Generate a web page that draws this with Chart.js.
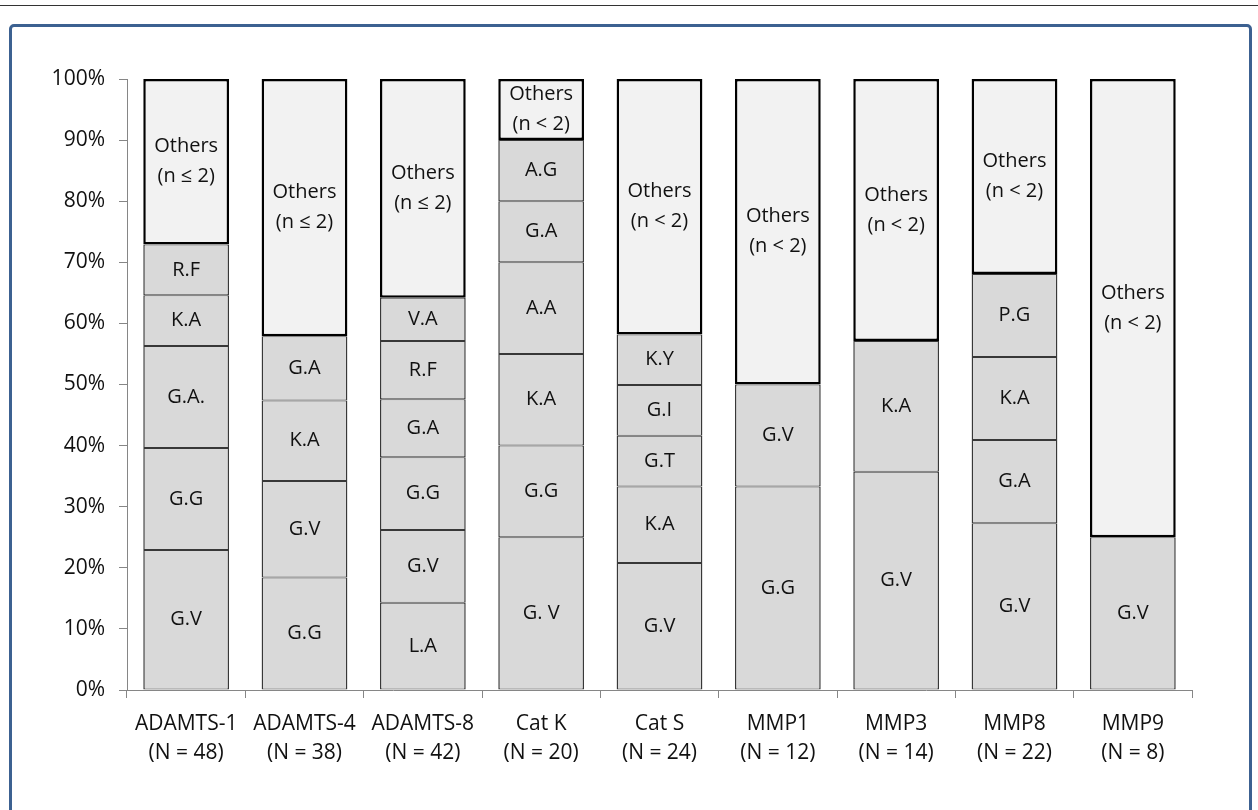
<!DOCTYPE html>
<html>
<head>
<meta charset="utf-8">
<script src="https://cdn.jsdelivr.net/npm/chart.js@4"></script>
<style>
  html, body { margin: 0; padding: 0; background: #fff; overflow: hidden; }
  #topline { position: absolute; left: 0; top: 5px; width: 1258px; height: 1px; background: #333; }
  #frame { position: absolute; left: 9px; top: 24px; width: 1237px; height: 900px;
           border: 3px solid #3c6191; border-radius: 5px; }
  #myChart { position: absolute; left: 0; top: 0; }
</style>
</head>
<body>
<div id="topline"></div>
<div id="frame"></div>
<canvas id="myChart" width="1258" height="810"></canvas>
<script>
// enzimas e tamanho da amostra
var enzimas = ['ADAMTS-1', 'ADAMTS-4', 'ADAMTS-8', 'Cat K', 'Cat S', 'MMP1', 'MMP3', 'MMP8', 'MMP9'];
var amostras = [48, 38, 42, 20, 24, 12, 14, 22, 8];

// camadas da pilha (percentual), de baixo para cima
var camada1 = [22.9, 18.4, 14.3, 25, 20.8, 33.3, 35.7, 27.3, 25];
var rotulos1 = ['G.V', 'G.G', 'L.A', 'G. V', 'G.V', 'G.G', 'G.V', 'G.V', 'G.V'];
var camada2 = [16.7, 15.8, 11.9, 15, 12.5, 16.7, 21.4, 13.6, null];
var rotulos2 = ['G.G', 'G.V', 'G.V', 'G.G', 'K.A', 'G.V', 'K.A', 'G.A', null];
var camada3 = [16.7, 13.2, 11.9, 15, 8.3, null, null, 13.6, null];
var rotulos3 = ['G.A.', 'K.A', 'G.G', 'K.A', 'G.T', null, null, 'K.A', null];
var camada4 = [8.3, 10.5, 9.5, 15, 8.3, null, null, 13.6, null];
var rotulos4 = ['K.A', 'G.A', 'G.A', 'A.A', 'G.I', null, null, 'P.G', null];
var camada5 = [8.3, null, 9.5, 10, 8.3, null, null, null, null];
var rotulos5 = ['R.F', null, 'R.F', 'G.A', 'K.Y', null, null, null, null];
var camada6 = [null, null, 7.1, 10, null, null, null, null, null];
var rotulos6 = [null, null, 'V.A', 'A.G', null, null, null, null, null];
var outros = [27.1, 42.1, 35.8, 10, 41.8, 50, 42.9, 31.9, 75];
var rotulosOutros = ['(n \u2264 2)', '(n \u2264 2)', '(n \u2264 2)', '(n < 2)', '(n < 2)', '(n < 2)', '(n < 2)', '(n < 2)', '(n < 2)'];

var yTicks = [0, 10, 20, 30, 40, 50, 60, 70, 80, 90, 100];

var FONTE = '"Open Sans", "Liberation Sans", sans-serif';
var cinza = '#d9d9d9';
var claro = '#f2f2f2';

var labels = enzimas.map(function (e, i) { return [e, '(N = ' + amostras[i] + ')']; });

function camada(nome, valores, rotulos) {
  return {
    label: nome,
    data: valores,
    rotulos: rotulos,
    backgroundColor: cinza,
    borderColor: '#383838',
    borderWidth: { left: 1.5, right: 1.5, top: 1, bottom: 1 },
    borderSkipped: false
  };
}

var datasets = [
  camada('c1', camada1, rotulos1),
  camada('c2', camada2, rotulos2),
  camada('c3', camada3, rotulos3),
  camada('c4', camada4, rotulos4),
  camada('c5', camada5, rotulos5),
  camada('c6', camada6, rotulos6),
  {
    label: 'Others',
    data: outros,
    rotulos: rotulosOutros.map(function (r) { return r ? ['Others', r] : null; }),
    backgroundColor: claro,
    borderColor: '#000',
    borderWidth: 2.5,
    borderSkipped: false
  }
];

// escreve o nome de cada segmento no meio dele
var textoSegmentos = {
  id: 'textoSegmentos',
  afterDatasetsDraw: function (chart) {
    var ctx = chart.ctx;
    ctx.save();
    ctx.font = '20px ' + FONTE;
    ctx.fillStyle = '#111';
    ctx.textAlign = 'center';
    ctx.textBaseline = 'middle';
    chart.data.datasets.forEach(function (ds, i) {
      var meta = chart.getDatasetMeta(i);
      meta.data.forEach(function (el, j) {
        var txt = ds.rotulos[j];
        if (txt == null || ds.data[j] == null) return;
        var linhas = Array.isArray(txt) ? txt : [txt];
        var meio = (el.y + el.base) / 2;
        var lh = 30;
        var y0 = meio - (linhas.length - 1) * lh / 2;
        linhas.forEach(function (l, k) { ctx.fillText(l, el.x, y0 + k * lh); });
      });
    });
    ctx.restore();
  }
};

var chart = new Chart(document.getElementById('myChart'), {
  type: 'bar',
  data: { labels: labels, datasets: datasets },
  options: {
    responsive: false,
    animation: false,
    layout: { padding: { left: 0, top: 79, right: 66, bottom: 0 } },
    datasets: { bar: { barPercentage: 0.725, categoryPercentage: 1 } },
    plugins: { legend: { display: false }, tooltip: { enabled: false } },
    scales: {
      x: {
        stacked: true,
        afterFit: function (s) { s.height = 120; },
        border: { color: '#868686', width: 1 },
        grid: { offset: true, drawOnChartArea: false, tickLength: 8, color: '#868686' },
        ticks: { color: '#111', padding: 12, maxRotation: 0, autoSkip: false,
                 font: { family: FONTE, size: 21, lineHeight: 1.35 } }
      },
      y: {
        stacked: true,
        min: 0,
        max: 100,
        afterFit: function (s) { s.width = 127; },
        afterBuildTicks: function (s) { s.ticks = yTicks.map(function (v) { return { value: v }; }); },
        border: { color: '#868686', width: 1 },
        grid: { drawOnChartArea: false, tickLength: 8, color: '#868686' },
        ticks: { color: '#111', padding: 14,
                 font: { family: FONTE, size: 21 },
                 callback: function (v) { return v + '%'; } }
      }
    }
  },
  plugins: [textoSegmentos]
});
</script>
</body>
</html>
